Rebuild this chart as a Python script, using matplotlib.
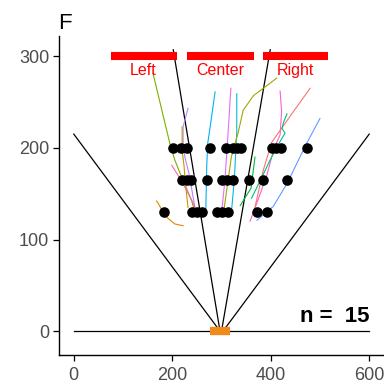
import numpy as np
import matplotlib.pyplot as plt

plt.rcParams['font.family'] = ['Liberation Sans', 'DejaVu Sans']

# zone bars at the top and their labels
zone_names = ['Left', 'Center', 'Right']
zone_start = [75, 230, 385]
zone_end = [210, 365, 517]
zone_label_x = [140, 297, 450]

# boundary lines of the arena (x0, y0, x1, y1)
bound_x0 = [0, 202, 399, 600]
bound_y0 = [215, 307, 307, 215]
bound_x1 = [297, 297, 300, 303]
bound_y1 = [0, 0, 0, 0]

# trajectories (one per individual)
track_colors = ['#7CAE00', '#B983FF', '#C99800', '#FF67A4', '#E58700',
                '#00B0F6', '#E76BF3', '#00BCD8', '#A3A500', '#00BA38',
                '#FD61D1', '#F8766D', '#00BF7D', '#619CFF']
track_x = [
    [161, 195, 205, 216, 239, 246],
    [232, 222, 222, 226, 234, 246],
    [220, 220, 224, 226, 232],
    [199, 222, 243, 250],
    [168, 172, 185, 205, 222],
    [287, 277, 272, 270, 268],
    [319, 312, 307, 300],
    [331, 331, 326, 321],
    [412, 385, 365, 344, 334, 320, 303],
    [368, 360, 338],
    [419, 422, 419, 407, 392, 372, 358],
    [480, 440, 402, 385, 365],
    [433, 426, 423, 429, 419, 399, 382, 361],
    [500, 473, 463, 433, 405, 372],
]
track_y = [
    [281, 205, 187, 172, 143, 130],
    [243, 223, 205, 189, 172, 135],
    [223, 197, 180, 165, 135],
    [181, 161, 139, 130],
    [142, 139, 126, 117, 115],
    [261, 223, 205, 180, 128],
    [265, 205, 165, 128],
    [259, 217, 165, 135],
    [276, 265, 257, 241, 217, 190, 125],
    [190, 156, 137],
    [262, 240, 214, 200, 170, 140, 120],
    [265, 235, 206, 176, 128],
    [237, 228, 221, 216, 207, 187, 168, 145],
    [232, 205, 194, 161, 136, 121],
]

# positions at three heights
pts_x = [202, 217, 230, 277, 309, 324, 332, 340, 403, 411, 420, 473,
         220, 229, 238, 270, 301, 311, 324, 355, 385, 433,
         183, 240, 250, 260, 291, 301, 313, 372, 393]
pts_y = [200] * 12 + [165] * 10 + [130] * 9

fig = plt.figure(figsize=(3.84, 3.87), dpi=100)
ax = fig.add_axes([59 / 384, 32 / 387, 325 / 384, 319 / 387])

ax.plot([0, 600], [0, 0], color='black', lw=0.9)
for x0, y0, x1, y1 in zip(bound_x0, bound_y0, bound_x1, bound_y1):
    ax.plot([x0, x1], [y0, y1], color='black', lw=0.9)

for xs, ys, c in zip(track_x, track_y, track_colors):
    ax.plot(xs, ys, color=c, lw=0.8)

ax.plot(pts_x, pts_y, 'o', color='black', ms=6.6, zorder=5)

for s, e in zip(zone_start, zone_end):
    ax.plot([s, e], [300, 300], color='#FF0000', lw=5.8, solid_capstyle='butt')
for name, lx in zip(zone_names, zone_label_x):
    ax.text(lx, 284, name, color='#FF0000', fontsize=11.5, ha='center', va='center')

# start zone marker
ax.plot([276, 318], [0, 0], color='#F08A1C', lw=6, solid_capstyle='butt', zorder=4)

ax.text(600, 16, 'n =  15', fontsize=16, fontweight='bold', ha='right', va='center')

ax.set_xlim(-30, 630)
ax.set_ylim(-26, 322)
ax.set_xticks([0, 200, 400, 600])
ax.set_yticks([0, 100, 200, 300])
for side in ['top', 'right']:
    ax.spines[side].set_visible(False)
for side in ['left', 'bottom']:
    ax.spines[side].set_linewidth(1.0)
ax.tick_params(labelsize=13, labelcolor='#4D4D4D', length=4, width=0.9, pad=3)
ax.tick_params(axis='x', pad=5)

fig.text(58 / 384, (387 - 29) / 387, 'F', fontsize=16, va='baseline', ha='left')

fig.savefig('out.png', dpi=100)
